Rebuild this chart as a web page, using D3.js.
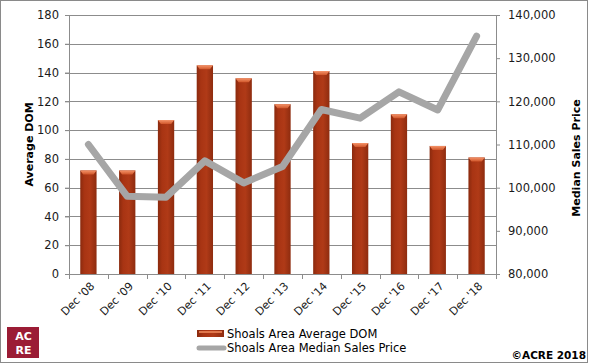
<!DOCTYPE html>
<html>
<head>
<meta charset="utf-8">
<script src="https://cdn.jsdelivr.net/npm/d3@7"></script>
<style>
  body { margin: 0; background: #fff; }
  text { font-family: "DejaVu Sans", Verdana, sans-serif; }
</style>
</head>
<body>
<script>
const categories = ["Dec '08", "Dec '09", "Dec '10", "Dec '11", "Dec '12", "Dec '13", "Dec '14", "Dec '15", "Dec '16", "Dec '17", "Dec '18"];
const avgDom = [72, 72, 107, 145, 136, 118, 141, 91, 111, 89, 81];
const medianPrice = [110000, 98000, 97800, 106200, 101100, 104900, 118100, 116100, 122200, 118000, 135100];
const domTicks = [0, 20, 40, 60, 80, 100, 120, 140, 160, 180];
const priceTicks = [80000, 90000, 100000, 110000, 120000, 130000, 140000];

const svgWidth = 589;
const svgHeight = 364;
const margin = { top: 15, bottom: 90, left: 69, right: 93 };
const width = svgWidth - margin.left - margin.right;
const height = svgHeight - margin.top - margin.bottom;

const root = d3.select('body')
    .append('svg')
    .attr('width', svgWidth)
    .attr('height', svgHeight);

// outer border
root.append('rect')
    .attr('x', 0.5).attr('y', 0.5)
    .attr('width', 587).attr('height', 362)
    .attr('fill', 'none')
    .attr('stroke', '#8a8a8a');

const defs = root.append('defs');
const grad = defs.append('linearGradient').attr('id', 'barGrad')
    .attr('x1', '0%').attr('x2', '100%').attr('y1', '0%').attr('y2', '0%');
grad.append('stop').attr('offset', '0%').attr('stop-color', '#8a2a0e');
grad.append('stop').attr('offset', '25%').attr('stop-color', '#a83413');
grad.append('stop').attr('offset', '60%').attr('stop-color', '#b03a17');
grad.append('stop').attr('offset', '100%').attr('stop-color', '#8e2c0f');

const capGrad = defs.append('linearGradient').attr('id', 'capGrad')
    .attr('x1', '0%').attr('x2', '0%').attr('y1', '0%').attr('y2', '100%');
capGrad.append('stop').attr('offset', '0%').attr('stop-color', '#f5946a');
capGrad.append('stop').attr('offset', '100%').attr('stop-color', '#d0562a');

const svg = root.append('g')
    .attr('transform', `translate(${margin.left}, ${margin.top})`);

const x = d3.scaleBand()
    .domain(categories)
    .range([0, width])
    .paddingInner(0.58)
    .paddingOuter(0.29);

const xBand = d3.scaleBand()
    .domain(categories)
    .range([0, width]);

const y = d3.scaleLinear()
    .domain([0, 180])
    .range([height, 0]);

const y2 = d3.scaleLinear()
    .domain([80000, 140000])
    .range([height, 0]);

// gridlines
svg.append('g')
    .selectAll('line')
    .data(domTicks.slice(1))
    .enter()
    .append('line')
    .attr('x1', -4)
    .attr('x2', width)
    .attr('y1', d => Math.round(y(d)) + 0.5)
    .attr('y2', d => Math.round(y(d)) + 0.5)
    .attr('stroke', '#8c8c8c');

// bars
const bars = svg.selectAll('.bar')
    .data(avgDom)
    .enter()
    .append('g')
    .attr('class', 'bar');

bars.append('rect')
    .attr('x', (d, i) => x(categories[i]))
    .attr('y', d => y(d))
    .attr('width', x.bandwidth())
    .attr('height', d => height - y(d))
    .attr('fill', 'url(#barGrad)');

bars.append('path')
    .attr('d', (d, i) => {
        const x0 = x(categories[i]);
        const w = x.bandwidth();
        const t = y(d);
        return `M${x0},${t} L${x0 + w},${t} L${x0 + w - 3},${t + 4} L${x0 + 3},${t + 4} Z`;
    })
    .attr('fill', 'url(#capGrad)');

// axes
const leftAxis = svg.append('g')
    .call(d3.axisLeft(y).tickValues(domTicks).tickSize(4).tickPadding(6));
leftAxis.select('.domain').attr('stroke', '#8c8c8c');
leftAxis.selectAll('line').attr('stroke', '#8c8c8c');
leftAxis.selectAll('text')
    .style('font-size', '11.5px')
    .style('fill', '#1a1a1a');

const rightAxis = svg.append('g')
    .attr('transform', `translate(${width},0)`)
    .call(d3.axisRight(y2).tickValues(priceTicks).tickSize(4).tickPadding(8).tickFormat(d3.format(',')));
rightAxis.select('.domain').attr('stroke', '#8c8c8c');
rightAxis.selectAll('line').attr('stroke', '#8c8c8c');
rightAxis.selectAll('text')
    .style('font-size', '11.5px')
    .style('fill', '#1a1a1a');

const bottomAxis = svg.append('g')
    .attr('transform', `translate(0,${height})`)
    .call(d3.axisBottom(xBand).tickSize(0).tickPadding(0));
bottomAxis.select('.domain').attr('stroke', '#8c8c8c');
bottomAxis.selectAll('text')
    .attr('transform', 'translate(4,10) rotate(-45)')
    .attr('dy', '0.35em')
    .style('text-anchor', 'end')
    .style('font-size', '11px')
    .style('fill', '#1a1a1a');

// category boundary ticks
svg.append('g')
    .selectAll('line')
    .data(categories.concat(['end']))
    .enter()
    .append('line')
    .attr('x1', (d, i) => Math.round(i < categories.length ? xBand(d) : width) + 0.5)
    .attr('x2', (d, i) => Math.round(i < categories.length ? xBand(d) : width) + 0.5)
    .attr('y1', height)
    .attr('y2', height + 5)
    .attr('stroke', '#8c8c8c');

// price line
const line = d3.line()
    .x((d, i) => xBand(categories[i]) + xBand.bandwidth() / 2)
    .y(d => y2(d));

svg.append('path')
    .datum(medianPrice)
    .attr('d', line)
    .attr('fill', 'none')
    .attr('stroke', '#a6a6a6')
    .attr('stroke-width', 7)
    .attr('stroke-linejoin', 'round')
    .attr('stroke-linecap', 'round');

// axis titles
root.append('text')
    .attr('transform', `translate(33, ${margin.top + height / 2}) rotate(-90)`)
    .attr('text-anchor', 'middle')
    .style('font-size', '11px')
    .style('font-weight', 'bold')
    .text('Average DOM');

root.append('text')
    .attr('transform', `translate(580, 158) rotate(-90)`)
    .attr('text-anchor', 'middle')
    .style('font-size', '11px')
    .style('font-weight', 'bold')
    .text('Median Sales Price');

// legend
const legend = root.append('g').attr('transform', 'translate(197, 330)');
legend.append('rect')
    .attr('width', 27).attr('height', 7)
    .attr('fill', 'url(#barGrad)');
legend.append('rect')
    .attr('x', 2).attr('y', 1)
    .attr('width', 23).attr('height', 2)
    .attr('fill', '#e0774c');
legend.append('text')
    .attr('x', 30).attr('y', 4)
    .attr('dy', '0.35em')
    .style('font-size', '11.5px')
    .text('Shoals Area Average DOM');
legend.append('line')
    .attr('x1', 2).attr('x2', 27)
    .attr('y1', 18).attr('y2', 18)
    .attr('stroke', '#a6a6a6')
    .attr('stroke-width', 5)
    .attr('stroke-linecap', 'round');
legend.append('text')
    .attr('x', 30).attr('y', 18)
    .attr('dy', '0.35em')
    .style('font-size', '11.5px')
    .text('Shoals Area Median Sales Price');

// logo
const logo = root.append('g').attr('transform', 'translate(7, 327)');
logo.append('rect')
    .attr('width', 32).attr('height', 31)
    .attr('fill', '#9b1c35');
logo.append('text')
    .attr('x', 16.5).attr('y', 12.5)
    .attr('text-anchor', 'middle')
    .style('font-size', '11px')
    .style('font-weight', 'bold')
    .style('fill', '#fff')
    .text('AC');
logo.append('text')
    .attr('x', 16.5).attr('y', 26.5)
    .attr('text-anchor', 'middle')
    .style('font-size', '11px')
    .style('font-weight', 'bold')
    .style('fill', '#fff')
    .text('RE');

root.append('text')
    .attr('x', 586).attr('y', 359)
    .attr('text-anchor', 'end')
    .style('font-size', '10.5px')
    .style('font-weight', 'bold')
    .text('©ACRE 2018');
</script>
</body>
</html>
